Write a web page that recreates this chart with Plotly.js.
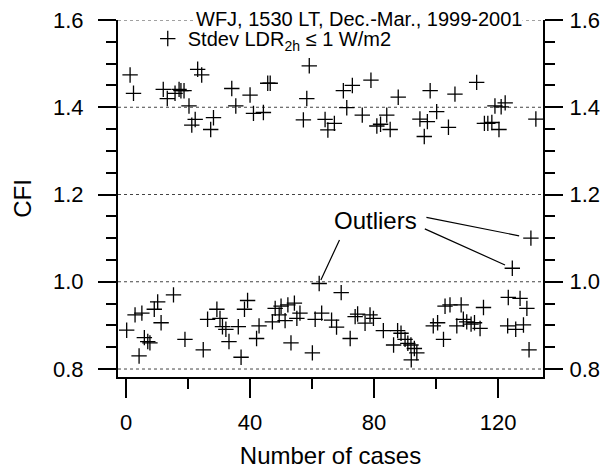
<!DOCTYPE html>
<html>
<head>
<meta charset="utf-8">
<script src="https://cdn.plot.ly/plotly-3.0.1.min.js"></script>
<style>
  html, body { margin: 0; padding: 0; background: #fff; }
  #chart { width: 608px; height: 469px; }
</style>
</head>
<body>
<div id="chart"></div>
<script>
// Case number of each clear-sky observation
const caseNo = [
  0.2, 1.3, 2.4, 2.9, 4.2, 5.1, 5.9, 7.0, 7.7, 9.1, 10.2, 11.3, 12.0, 13.3, 15.3, 15.8,
  17.1, 17.7, 18.7, 19.0, 20.3, 21.2, 22.3, 23.1, 24.4, 24.9, 26.3, 27.3, 28.2, 29.3,
  30.3, 31.1, 32.2, 33.2, 34.1, 35.4, 36.2, 37.1, 38.2, 39.2, 40.0, 41.1, 42.1, 42.9,
  44.3, 45.7, 46.5, 47.2, 48.1, 49.4, 50.0, 51.3, 52.2, 53.2, 54.3, 55.1, 56.1, 57.2,
  58.3, 59.1, 60.1, 61.0, 62.3, 63.1, 64.2, 65.1, 66.3, 67.2, 67.9, 69.4, 70.1, 71.2,
  72.3, 73.0, 73.9, 74.7, 76.2, 77.1, 78.7, 79.0, 79.8, 80.9, 82.1, 83.0, 84.1, 85.2,
  86.3, 87.6, 87.8, 88.7, 90.0, 90.9, 91.9, 92.0, 93.0, 93.8, 94.8, 96.2, 97.2, 98.1,
  99.1, 100.2, 100.5, 102.4, 102.9, 104.0, 104.5, 106.1, 106.7, 108.1, 108.8, 109.9,
  111.3, 112.4, 113.1, 114.2, 115.3, 115.6, 116.7, 118.0, 119.0, 120.3, 121.0, 122.3,
  123.1, 123.3, 124.6, 125.7, 127.1, 128.2, 129.3, 130.0, 130.6, 132.2
];

// Cloud forcing index for each case
const cfi = [
  0.889, 1.474, 1.432, 0.924, 0.830, 0.928, 0.872, 0.863, 0.860, 0.937, 0.954, 0.906, 1.441, 1.420, 0.970, 1.432,
  1.441, 1.438, 1.438, 0.868, 1.403, 1.359, 1.372, 1.487, 1.474, 0.844, 0.914, 1.349, 1.376, 0.937,
  0.916, 0.897, 0.891, 0.863, 1.443, 1.403, 0.897, 0.827, 0.937, 0.957, 1.428, 1.386, 0.870, 0.899,
  1.388, 1.455, 1.455, 0.908, 0.939, 0.924, 0.944, 0.911, 0.947, 0.860, 0.951, 0.916, 0.928, 1.371,
  1.420, 1.495, 0.837, 0.914, 0.996, 0.928, 1.372, 1.348, 0.912, 1.363, 0.896, 0.975, 1.438, 1.399,
  0.870, 1.450, 0.920, 0.926, 1.382, 0.905, 0.924, 1.462, 0.916, 1.357, 1.361, 0.888, 1.382, 1.349,
  0.855, 0.888, 1.423, 0.882, 0.868, 0.859, 0.855, 0.821, 0.847, 0.837, 1.373, 1.333, 1.367, 1.438,
  0.899, 1.390, 0.906, 0.868, 0.944, 1.354, 0.947, 1.430, 0.899, 0.947, 0.914, 0.908,
  0.903, 0.906, 1.457, 0.893, 0.941, 1.363, 1.363, 1.365, 1.403, 1.349, 1.401, 1.410,
  0.899, 0.964, 1.031, 0.891, 0.962, 0.901, 0.939, 0.844, 1.100, 1.373
];

const yTicks = [0.8, 1.0, 1.2, 1.4, 1.6];
const xTicks = [0, 40, 80, 120];

// Cases that fall in the gap between the two clusters
const outliers = caseNo
  .map((c, i) => ({ x: c, y: cfi[i] }))
  .filter(p => p.y > 0.98 && p.y < 1.2)
  .sort((a, b) => a.x - b.x);

// Pixel offsets from each outlier to the "Outliers" label
const leaderOffsets = [
  { ax: 21, ay: -45, standoff: 4 },
  { ax: -89, ay: -40, standoff: 8 },
  { ax: -106, ay: -21, standoff: 12 }
];

const FONT = 'Liberation Sans, Arial, Helvetica, sans-serif';

const traces = [
  {
    x: caseNo,
    y: cfi,
    type: 'scatter',
    mode: 'markers',
    name: 'Stdev LDR<sub>2h</sub> \u2264 1 W/m2',
    marker: {
      symbol: 'cross-thin',
      size: 11,
      color: '#000',
      line: { color: '#000', width: 1.3 }
    },
    hoverinfo: 'skip'
  },
  {
    // anchors the mirrored right-hand axis
    x: [null],
    y: [null],
    yaxis: 'y2',
    mode: 'markers',
    showlegend: false,
    hoverinfo: 'skip'
  }
];

const yCommon = {
  range: [0.7817, 1.6],
  tickvals: yTicks,
  tickformat: '.1f',
  ticks: 'outside',
  ticklen: 18,
  tickwidth: 2,
  tickcolor: '#000',
  showline: true,
  linewidth: 2,
  linecolor: '#000',
  zeroline: false,
  showgrid: false,
  tickfont: { family: FONT, size: 22, color: '#000' },
  minor: { dtick: 0.05, tick0: 0.8, ticks: 'outside', ticklen: 10, tickwidth: 2, tickcolor: '#000', showgrid: false },
  fixedrange: true
};

// Dotted horizontal reference lines at every labelled CFI value
const gridShapes = yTicks.map(v => ({
  type: 'line',
  xref: 'paper', yref: 'y',
  x0: 0, x1: 1, y0: v, y1: v,
  line: { color: '#444', width: 1, dash: 'dot' },
  layer: 'below'
}));

const annotations = [
  {
    xref: 'paper', yref: 'paper',
    x: 0.567, y: 1.0028,
    xanchor: 'center', yanchor: 'middle',
    text: 'WFJ, 1530 LT, Dec.-Mar., 1999-2001',
    showarrow: false,
    bgcolor: '#fff',
    borderpad: 0,
    font: { family: FONT, size: 20, color: '#000' }
  },
  {
    xref: 'paper', yref: 'paper',
    x: 0.607, y: 0.437,
    xanchor: 'center', yanchor: 'middle',
    text: 'Outliers',
    showarrow: false,
    font: { family: FONT, size: 24, color: '#000' }
  }
];

outliers.forEach((p, i) => {
  const o = leaderOffsets[i];
  annotations.push({
    xref: 'x', yref: 'y',
    x: p.x, y: p.y,
    text: '',
    showarrow: true,
    arrowhead: 0,
    arrowwidth: 1.2,
    arrowcolor: '#000',
    ax: o.ax, ay: o.ay,
    standoff: o.standoff
  });
});

const layout = {
  width: 608,
  height: 469,
  margin: { l: 118, r: 65, t: 20, b: 92, pad: 0 },
  paper_bgcolor: '#fff',
  plot_bgcolor: '#fff',
  font: { family: FONT, color: '#000' },
  showlegend: true,
  legend: {
    x: 0.07, xanchor: 'left',
    y: 0.948, yanchor: 'middle',
    bgcolor: 'rgba(0,0,0,0)',
    font: { family: FONT, size: 20, color: '#000' }
  },
  xaxis: {
    range: [-2.6, 134.5],
    tickvals: xTicks,
    ticks: 'outside',
    ticklen: 19,
    tickwidth: 2,
    tickcolor: '#000',
    ticklabelstandoff: 6,
    showline: true,
    linewidth: 2,
    linecolor: '#000',
    showgrid: false,
    zeroline: false,
    tickfont: { family: FONT, size: 22, color: '#000' },
    minor: { dtick: 20, tick0: 0, ticks: 'outside', ticklen: 10, tickwidth: 2, tickcolor: '#000', showgrid: false },
    title: { text: 'Number of cases', font: { family: FONT, size: 24, color: '#000' }, standoff: 14 },
    fixedrange: true
  },
  yaxis: Object.assign({}, yCommon, {
    side: 'left',
    ticklabelstandoff: 10,
    title: { text: 'CFI', font: { family: FONT, size: 24, color: '#000' }, standoff: 15 }
  }),
  yaxis2: Object.assign({}, yCommon, {
    overlaying: 'y',
    side: 'right',
    ticklabelstandoff: 2
  }),
  shapes: gridShapes,
  annotations: annotations
};

Plotly.newPlot('chart', traces, layout, { staticPlot: true, displayModeBar: false });
</script>
</body>
</html>
